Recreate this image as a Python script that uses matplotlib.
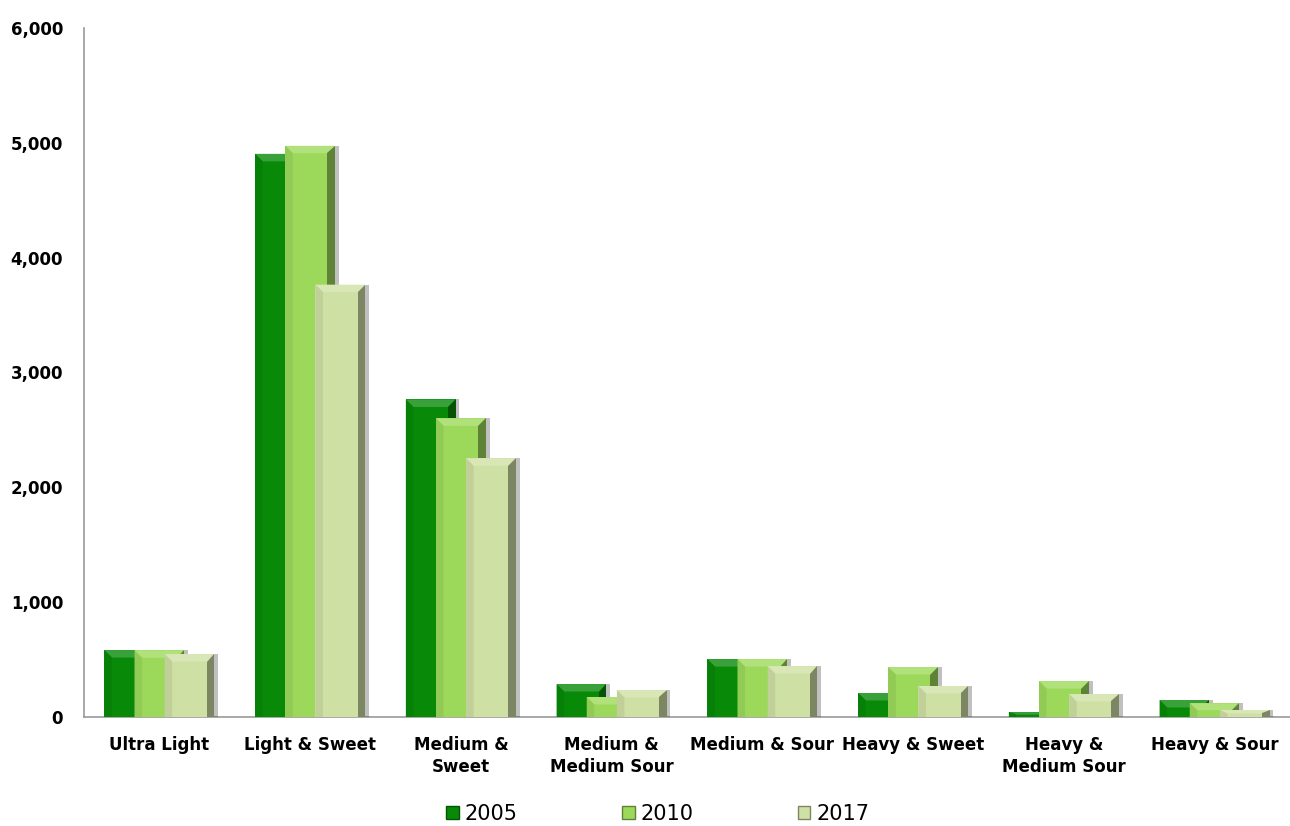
import numpy as np
import matplotlib.pyplot as plt
from matplotlib.patches import Polygon, Patch
from matplotlib.colors import to_rgb

categories = ['Ultra Light', 'Light & Sweet', 'Medium &\nSweet', 'Medium &\nMedium Sour',
              'Medium & Sour', 'Heavy & Sweet', 'Heavy &\nMedium Sour', 'Heavy & Sour']
years = ['2005', '2010', '2017']
v2005 = [583, 4904, 2765, 287, 504, 209, 43, 148]
v2010 = [580, 4974, 2600, 174, 504, 435, 313, 119]
v2017 = [548, 3765, 2252, 235, 443, 270, 200, 61]
colors = ['#088a08', '#9cd95a', '#cfe0a4']

series = [v2005, v2010, v2017]
plt.rcParams['font.family'] = ['Liberation Sans Narrow', 'DejaVu Sans']

fig = plt.figure(figsize=(12.9, 8.26), dpi=100)
ax = fig.add_axes([84 / 1290, 1 - 717 / 826, 1 - 84 / 1290, (717 - 28) / 826])

x = np.arange(len(categories))
width = 0.33
offsets = [-0.2, 0.0, 0.2]


def shade(c, f):
    r, g, b = to_rgb(c)
    if f > 1:
        return tuple(min(1, v + (1 - v) * (f - 1)) for v in (r, g, b))
    return tuple(v * f for v in (r, g, b))


bx = 0.05
by_full = 65
for i, (vals, col, off) in enumerate(zip(series, colors, offsets)):
    z = 3 + i * 3
    # soft shadow
    ax.bar(x + off + 0.025, vals, width, color='#303030', alpha=0.3, zorder=z - 1,
           linewidth=0)
    bars = ax.bar(x + off, vals, width, color=col, zorder=z, linewidth=0)
    for b in bars:
        x0 = b.get_x()
        x1 = x0 + b.get_width()
        h = b.get_height()
        by = min(by_full, h / 2)
        top = Polygon([(x0, h), (x1, h), (x1 - bx, h - by), (x0 + bx, h - by)],
                      closed=True, color=shade(col, 1.2), zorder=z + 1, linewidth=0)
        right = Polygon([(x1, h), (x1, 0), (x1 - bx, 0), (x1 - bx, h - by)],
                        closed=True, color=shade(col, 0.6), zorder=z + 1, linewidth=0)
        left = Polygon([(x0, h), (x0 + bx, h - by), (x0 + bx, 0), (x0, 0)],
                       closed=True, color=shade(col, 0.93), zorder=z + 1, linewidth=0)
        for p in (top, right, left):
            ax.add_patch(p)

ax.set_xlim(-0.5, len(categories) - 0.5)
ax.set_ylim(0, 6000)
ax.set_yticks(range(0, 6001, 1000))
ax.set_yticklabels([f'{v:,}' for v in range(0, 6001, 1000)], fontsize=12, fontweight='bold')
ax.set_xticks(x)
ax.set_xticklabels(categories, fontsize=12, fontweight='bold', linespacing=1.25)
ax.tick_params(axis='both', length=0)
ax.tick_params(axis='y', pad=15)
ax.tick_params(axis='x', pad=14)
for s in ['top', 'right']:
    ax.spines[s].set_visible(False)
for s in ['left', 'bottom']:
    ax.spines[s].set_color('#999999')
    ax.spines[s].set_linewidth(1.2)

handles = [Patch(facecolor=c, edgecolor=shade(c, 0.6), linewidth=1) for c in colors]
fig.legend(handles, years, loc='lower center', bbox_to_anchor=(0.51, -0.02), ncol=3,
           frameon=False, fontsize=15, handlelength=0.6, handleheight=0.6,
           handletextpad=0.3, columnspacing=5.0)

fig.savefig('out.png', dpi=100)
